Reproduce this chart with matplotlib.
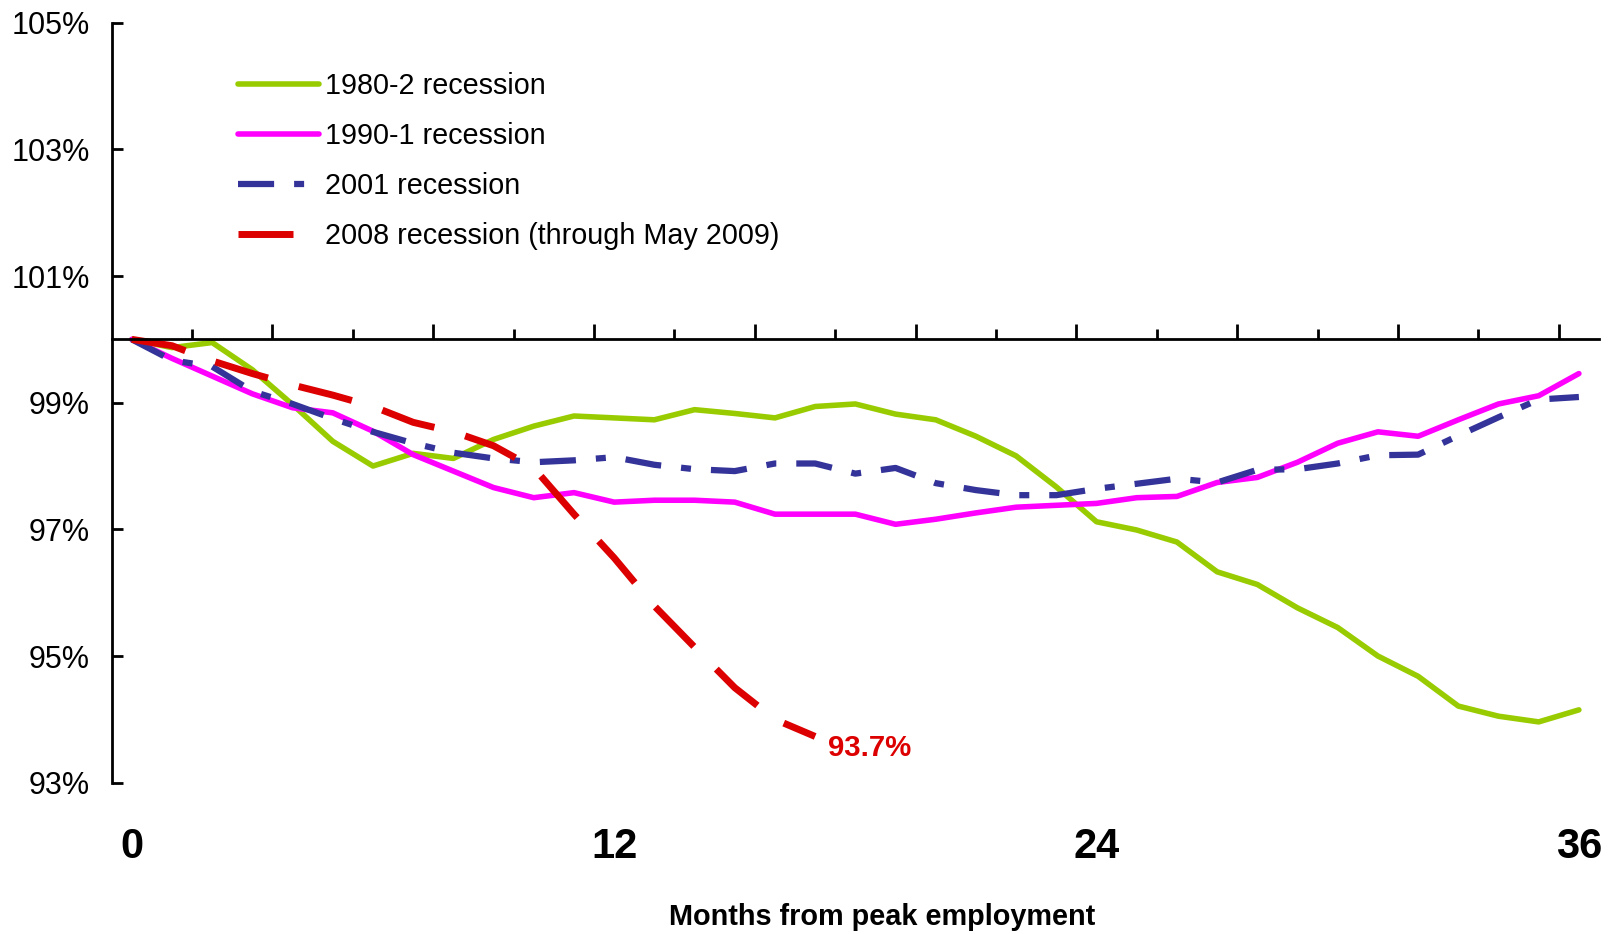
import numpy as np
import matplotlib
matplotlib.use("Agg")
import matplotlib.pyplot as plt
from matplotlib.transforms import blended_transform_factory

plt.rcParams['font.family'] = ['Liberation Sans', 'DejaVu Sans']
plt.rcParams['lines.scale_dashes'] = False

# ---- data ----
months_full = list(range(0, 37))
months_2008 = list(range(0, 18))

rec_1980 = [100.0, 99.87, 99.95, 99.52, 98.97, 98.39, 98.00, 98.20, 98.12, 98.42,
            98.63, 98.79, 98.76, 98.73, 98.89, 98.83, 98.76, 98.94, 98.98, 98.82,
            98.73, 98.47, 98.16, 97.67, 97.12, 96.99, 96.80, 96.33, 96.13, 95.76,
            95.45, 95.00, 94.68, 94.21, 94.05, 93.96, 94.15]
rec_1990 = [100.0, 99.70, 99.42, 99.14, 98.92, 98.84, 98.55, 98.18, 97.92, 97.66,
            97.50, 97.58, 97.43, 97.46, 97.46, 97.43, 97.24, 97.24, 97.24, 97.08,
            97.16, 97.26, 97.35, 97.38, 97.41, 97.50, 97.52, 97.74, 97.82, 98.06,
            98.36, 98.54, 98.47, 98.73, 98.98, 99.11, 99.46]
rec_2001 = [100.0, 99.67, 99.57, 99.18, 98.98, 98.75, 98.54, 98.36, 98.21, 98.12,
            98.06, 98.09, 98.14, 98.02, 97.95, 97.92, 98.04, 98.04, 97.88, 97.97,
            97.73, 97.62, 97.54, 97.54, 97.64, 97.72, 97.80, 97.74, 97.94, 97.95,
            98.04, 98.17, 98.18, 98.48, 98.77, 99.05, 99.09]
rec_2008 = [100.0, 99.90, 99.66, 99.46, 99.28, 99.12, 98.94, 98.69, 98.54, 98.32,
            97.97, 97.24, 96.55, 95.79, 95.14, 94.50, 94.00, 93.73]

labels = ["1980-2 recession", "1990-1 recession", "2001 recession",
          "2008 recession (through May 2009)"]
y_ticks = [93, 95, 97, 99, 101, 103, 105]
y_ticklabels = ["93%", "95%", "97%", "99%", "101%", "103%", "105%"]
x_labels = [0, 12, 24, 36]
end_label = "93.7%"

# ---- figure ----
W, H = 1611, 934
fig = plt.figure(figsize=(W / 100, H / 100), dpi=100)
ax_left, ax_right = 111.7, 1599.0
ax_top, ax_bot = 22.7, 782.7
ax = fig.add_axes([ax_left / W, (H - ax_bot) / H, (ax_right - ax_left) / W, (ax_bot - ax_top) / H])
ax.set_xlim(-0.5, 36.5)
ax.set_ylim(93, 105)

green = '#99CC00'
magenta = '#FF00FF'
blue = '#333399'
red = '#DD0000'

l1, = ax.plot(months_full, rec_1980, color=green, lw=4.0, solid_capstyle='round',
              solid_joinstyle='round', clip_on=False)
l2, = ax.plot(months_full, rec_1990, color=magenta, lw=4.0, solid_capstyle='round',
              solid_joinstyle='round', clip_on=False)
l3, = ax.plot(months_full, rec_2001, color=blue, lw=4.5,
              linestyle=(0, (26, 14.4, 7.2, 14.4)), clip_on=False)
l4, = ax.plot(months_2008, rec_2008, color=red, lw=5.0,
              linestyle=(0, (39.6, 23)), clip_on=False)

# spines
for s in ['top', 'right']:
    ax.spines[s].set_visible(False)
ax.spines['left'].set_linewidth(2)
ax.spines['bottom'].set_position(('data', 100))
ax.spines['bottom'].set_linewidth(2)

ax.set_yticks(y_ticks)
ax.set_yticklabels(y_ticklabels)
ax.tick_params(axis='y', direction='in', length=8, width=2, pad=15.6,
               labelsize=22, colors='black')

ax.set_xticks(np.arange(3.5, 36, 4))
ax.set_xticks(np.arange(1.5, 36, 4), minor=True)
ax.tick_params(axis='x', which='major', direction='in', length=10.5, width=2,
               labelbottom=False)
ax.tick_params(axis='x', which='minor', direction='in', length=7.5, width=2,
               labelbottom=False)

# month labels
trans = blended_transform_factory(ax.transData, fig.transFigure)
for m in x_labels:
    ax.text(m, (H - 846.7) / H, str(m), transform=trans, ha='center', va='center',
            fontsize=30, fontweight='bold', color='black')

fig.text(882.5 / W, (H - 925) / H, "Months from peak employment", ha='center',
         va='baseline', fontsize=20.8, fontweight='bold', color='black')

ax.annotate(end_label, xy=(months_2008[-1], rec_2008[-1]), xytext=(9.4, -13.9),
            textcoords='offset points', ha='left', va='baseline', fontsize=21.2,
            fontweight='bold', color=red)

leg = ax.legend([l1, l2, l3, l4], labels, loc='upper left',
                bbox_to_anchor=(0.148, 0.9226), bbox_transform=fig.transFigure,
                frameon=False, fontsize=20.7, handlelength=2.8, handletextpad=0.22,
                labelspacing=0.76, borderpad=0, borderaxespad=0)

fig.savefig('out.png', dpi=100)
